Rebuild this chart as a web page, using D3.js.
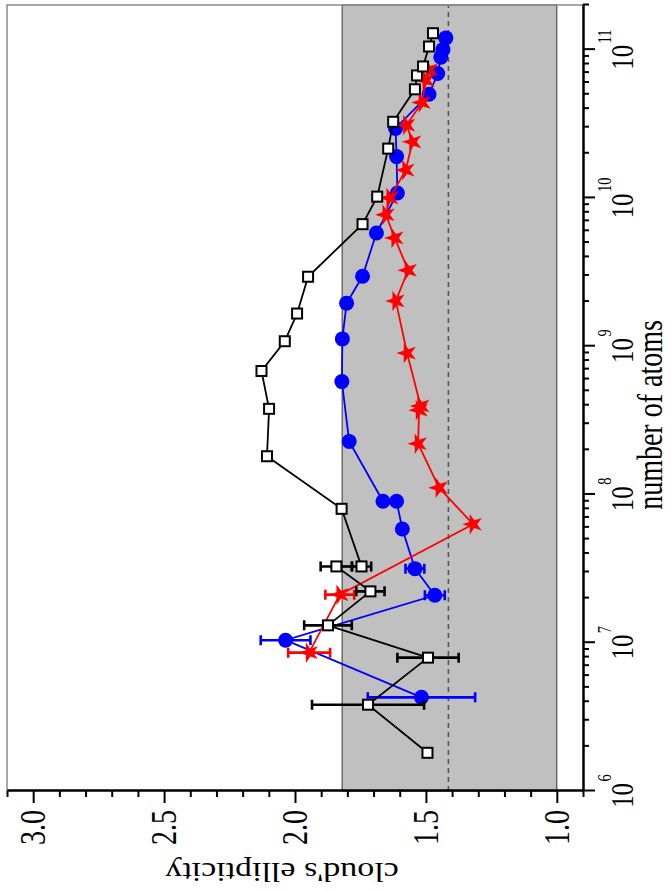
<!DOCTYPE html>
<meta charset="utf-8">
<style>
body { margin: 0; background: #fff; }
svg { display: block; font-family: "Liberation Serif", "Times New Roman", serif; }
</style>
<svg width="671" height="890"></svg>
<script src="https://d3js.org/d3.v7.min.js"></script>
<script>

// open squares
var squareAtoms = [1.81e6, 3.82e6, 7.93e6, 1.31e7, 2.22e7, 3.27e7, 3.27e7, 8.0e7, 1.81e8, 3.78e8, 6.8e8,
                   1.08e9, 1.66e9, 2.94e9, 6.65e9, 1.02e10, 2.15e10, 3.26e10, 5.4e10, 6.7e10, 7.7e10, 1.05e11, 1.29e11];
var squareEll   = [1.494, 1.721, 1.492, 1.874, 1.712, 1.842, 1.746, 1.822, 2.107, 2.099, 2.128,
                   2.039, 1.992, 1.950, 1.742, 1.686, 1.644, 1.625, 1.542, 1.534, 1.511, 1.488, 1.473];
var squareErr   = [0, 0.214, 0.117, 0.091, 0.054, 0.060, 0.037, 0.012, 0.012, 0, 0,
                   0, 0, 0, 0, 0, 0, 0, 0, 0, 0, 0, 0];

// blue circles
var circleAtoms = [4.28e6, 1.04e7, 2.09e7, 3.16e7, 5.85e7, 9.0e7, 9.0e7, 2.28e8, 5.77e8, 1.12e9, 1.95e9,
                   2.96e9, 5.8e9, 1.08e10, 1.9e10, 2.94e10, 5.0e10, 6.9e10, 8.9e10, 1.0e11, 1.2e11];
var circleEll   = [1.517, 2.036, 1.466, 1.542, 1.590, 1.612, 1.664, 1.793, 1.821, 1.819, 1.803,
                   1.742, 1.689, 1.609, 1.612, 1.616, 1.488, 1.455, 1.443, 1.435, 1.424];
var circleErr   = [0.205, 0.095, 0.038, 0.036, 0, 0, 0, 0, 0, 0, 0,
                   0, 0, 0, 0, 0, 0, 0, 0, 0, 0];

// red stars
var starAtoms = [8.57e6, 2.11e7, 6.3e7, 1.11e8, 2.2e8, 3.7e8, 3.95e8, 8.98e8, 2.02e9, 3.25e9, 5.37e9,
                 7.7e9, 1.0e10, 1.54e10, 2.39e10, 3.1e10, 4.4e10, 6.2e10, 7.3e10];
var starEll   = [1.946, 1.829, 1.320, 1.450, 1.530, 1.526, 1.520, 1.572, 1.615, 1.568, 1.619,
                 1.653, 1.638, 1.577, 1.551, 1.574, 1.515, 1.500, 1.487];
var starErr   = [0.080, 0.055, 0, 0, 0, 0, 0, 0, 0, 0, 0,
                 0, 0, 0, 0, 0, 0, 0, 0];

// shaded band and the dashed reference value
var bandLow = 1.0, bandHigh = 1.82, refLine = 1.414;

var ellTicks = [1.0, 1.5, 2.0, 2.5, 3.0];
var atomExponents = [6, 7, 8, 9, 10, 11];

var svg = d3.select("svg");

// the chart is laid out upright and then turned a quarter turn counter-clockwise
var g = svg.append("g").attr("transform", "translate(0,890) rotate(-90)");

var x = d3.scaleLog().domain([1e6, 2e11]).range([99, 885]),
    y = d3.scaleLinear().domain([0.9, 3.1]).range([583, 7]);

function rows(atoms, ell, err) {
  return atoms.map(function(n, i) { return {n: n, e: ell[i], err: err[i]}; });
}

// band
g.append("rect")
    .attr("x", x.range()[0])
    .attr("y", y(bandHigh))
    .attr("width", x.range()[1] - x.range()[0])
    .attr("height", y(bandLow) - y(bandHigh))
    .attr("fill", "#c0c0c0")
    .attr("stroke", "#333")
    .attr("stroke-width", 1);

g.append("line")
    .attr("x1", x.range()[0]).attr("x2", x.range()[1])
    .attr("y1", y(refLine)).attr("y2", y(refLine))
    .attr("stroke", "#555")
    .attr("stroke-width", 1.6)
    .attr("stroke-dasharray", "5,4");

// thin frame on the far sides
g.append("path")
    .attr("d", "M" + x.range()[0] + "," + y.range()[1] + "H" + x.range()[1] + "V" + y.range()[0])
    .attr("fill", "none")
    .attr("stroke", "#8a8a8a")
    .attr("stroke-width", 1.5);

var series = [
  {data: rows(circleAtoms, circleEll, circleErr), color: "#0000ff", shape: "circle"},
  {data: rows(starAtoms, starEll, starErr), color: "#ff0000", shape: "star"},
  {data: rows(squareAtoms, squareEll, squareErr), color: "#000", shape: "square"}
];

var line = d3.line()
    .x(function(d) { return x(d.n); })
    .y(function(d) { return y(d.e); });

var star = d3.symbol().type(d3.symbolStar).size(130);

series.forEach(function(s) {
  var sg = g.append("g");

  sg.append("path")
      .attr("d", line(s.data))
      .attr("fill", "none")
      .attr("stroke", s.color)
      .attr("stroke-width", 1.8);

  sg.selectAll(".err")
      .data(s.data.filter(function(d) { return d.err > 0; }))
    .enter().append("path")
      .attr("class", "err")
      .attr("d", function(d) {
        var cx = x(d.n), y1 = y(d.e - d.err), y2 = y(d.e + d.err);
        return "M" + cx + "," + y1 + "V" + y2 +
               "M" + (cx - 5) + "," + y1 + "H" + (cx + 5) +
               "M" + (cx - 5) + "," + y2 + "H" + (cx + 5);
      })
      .attr("fill", "none")
      .attr("stroke", s.color)
      .attr("stroke-width", 2.6);

  var pts = sg.selectAll(".pt")
      .data(s.data)
    .enter();

  if (s.shape == "circle") {
    pts.append("circle")
        .attr("cx", function(d) { return x(d.n); })
        .attr("cy", function(d) { return y(d.e); })
        .attr("r", 7.5)
        .attr("fill", s.color);
  } else if (s.shape == "star") {
    pts.append("path")
        .attr("transform", function(d) { return "translate(" + x(d.n) + "," + y(d.e) + ")"; })
        .attr("d", star)
        .attr("fill", s.color);
  } else {
    pts.append("rect")
        .attr("x", function(d) { return x(d.n) - 5; })
        .attr("y", function(d) { return y(d.e) - 5; })
        .attr("width", 10)
        .attr("height", 10)
        .attr("fill", "#fff")
        .attr("stroke", "#000")
        .attr("stroke-width", 2);
  }
});

// axes: majors and minors drawn as separate passes
var atomMajor = atomExponents.map(function(p) { return Math.pow(10, p); }),
    atomMinor = [];
atomExponents.forEach(function(p) {
  for (var m = 2; m <= 9; m++) {
    var v = m * Math.pow(10, p);
    if (v <= x.domain()[1]) atomMinor.push(v);
  }
});

var ellMinor = d3.range(9, 32).map(function(k) { return k / 10; })
    .filter(function(v) { return ellTicks.indexOf(v) < 0; });

function styleAxis(sel) {
  sel.selectAll("path, line").attr("stroke", "#000").attr("stroke-width", 2);
  sel.selectAll("text").remove();
}

g.append("g").attr("transform", "translate(0," + y.range()[0] + ")")
    .call(d3.axisBottom(x).tickValues(atomMinor).tickSize(6).tickSizeOuter(0).tickFormat(""))
    .call(styleAxis);
g.append("g").attr("transform", "translate(0," + y.range()[0] + ")")
    .call(d3.axisBottom(x).tickValues(atomMajor).tickSize(12).tickSizeOuter(0).tickFormat(""))
    .call(styleAxis);

g.append("g").attr("transform", "translate(" + x.range()[0] + ",0)")
    .call(d3.axisLeft(y).tickValues(ellMinor).tickSize(6).tickSizeOuter(0).tickFormat(""))
    .call(styleAxis);
g.append("g").attr("transform", "translate(" + x.range()[0] + ",0)")
    .call(d3.axisLeft(y).tickValues(ellTicks).tickSize(12).tickSizeOuter(0).tickFormat(""))
    .call(styleAxis);

// tick labels (the source figure is squeezed along the atoms direction)
g.selectAll(".elab")
    .data(ellTicks)
  .enter().append("text")
    .attr("transform", function(d) { return "translate(80," + y(d) + ") scale(0.8,1)"; })
    .attr("text-anchor", "end")
    .attr("dy", "0.35em")
    .style("font-size", "35px")
    .text(function(d) { return d.toFixed(1); });

var alab = g.selectAll(".alab")
    .data(atomExponents)
  .enter().append("text")
    .attr("transform", function(d) { return "translate(" + x(Math.pow(10, d)) + ",633) scale(0.8,1)"; })
    .attr("text-anchor", "middle")
    .style("font-size", "31px");
alab.append("tspan").text("10");
alab.append("tspan")
    .attr("dx", 2)
    .attr("dy", -22)
    .style("font-size", "18px")
    .text(function(d) { return d; });

// axis titles
g.append("text")
    .attr("transform", "translate(475,662) scale(0.8,1)")
    .attr("text-anchor", "middle")
    .style("font-size", "35px")
    .text("number of atoms");

g.append("text")
    .attr("transform", "translate(27,282) scale(0.8,1) rotate(-90)")
    .attr("text-anchor", "middle")
    .style("font-size", "34px")
    .text("cloud's ellipticity");

</script>
